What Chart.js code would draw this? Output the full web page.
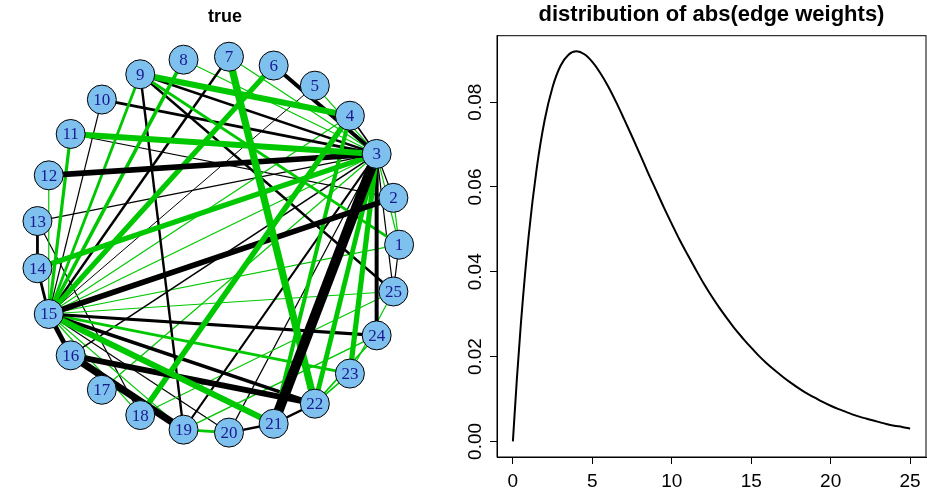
<!DOCTYPE html>
<html>
<head>
<meta charset="utf-8">
<script src="https://cdn.jsdelivr.net/npm/chart.js@4.4.1/dist/chart.umd.min.js"></script>
<style>
  html, body { margin: 0; padding: 0; background: #fff; }
  #wrap { position: relative; width: 927px; height: 490px; }
  #netBox { position: absolute; left: 0; top: 0; width: 450px; height: 490px; }
  #densBox { position: absolute; left: 463px; top: 0; width: 464px; height: 490px; }
</style>
</head>
<body>
<div id="wrap">
  <div id="netBox"><canvas id="netChart" width="450" height="490"></canvas></div>
  <div id="densBox"><canvas id="densChart" width="464" height="490"></canvas></div>
</div>
<script>
// nodes (circle layout, node 1 at the right, counter-clockwise)
const nodeLabels = ['1', '2', '3', '4', '5', '6', '7', '8', '9', '10', '11', '12', '13',
  '14', '15', '16', '17', '18', '19', '20', '21', '22', '23', '24', '25'];

// edges: positive = green, negative = black
const edgeFrom = [3, 3, 6, 9, 10, 13, 3, 3, 3, 3, 3, 3, 16, 2, 11, 9, 9, 7, 5, 10,
  15, 15, 15, 16, 16, 15, 13, 14, 13, 1, 21, 20,
  9, 11, 14, 7, 6, 3, 3, 4, 15, 4, 9, 9, 11, 8, 12, 7, 8, 5, 3, 17,
  15, 15, 15, 15, 15, 15, 19, 19, 18, 22, 22, 23, 2, 15];
const edgeTo = [21, 12, 3, 3, 3, 3, 24, 25, 2, 4, 20, 19, 3, 15, 2, 25, 19, 15, 15, 15,
  24, 22, 20, 22, 19, 16, 14, 15, 18, 25, 22, 21,
  4, 3, 3, 22, 15, 22, 23, 18, 21, 21, 1, 15, 15, 15, 15, 3, 3, 3, 1, 3,
  1, 23, 25, 3, 4, 18, 20, 24, 25, 23, 24, 25, 1, 19];
const edgeWeight = [-25, -14, -10, -6, -7, -3, -10, -3, -3, -4, -3, -5, -4, -14, -3, -6, -6, -6, -2.5, -3,
  -8, -9, -3, -15, -18, -12, -7, -7, -3, -3, -6, -6,
  15, 15, 13, 18, 13, 12, 13, 14, 15, 10, 7, 7, 8, 9, 3, 3, 3, 3, 3, 3,
  3, 7, 3, 3, 3, 3, 7, 4, 3, 4, 4, 3, 3, 3];

// density curve of abs(edge weights)
const densX = [0, 0.25, 0.5, 1, 1.5, 2, 2.5, 3, 3.5, 4, 4.5, 5, 5.5, 6, 6.5, 7, 7.5, 8, 8.5, 9, 9.5,
  10, 10.5, 11, 11.5, 12, 12.5, 13, 13.5, 14, 14.5, 15, 15.5, 16, 16.5, 17, 17.5, 18, 18.5,
  19, 19.5, 20, 20.5, 21, 21.5, 22, 22.5, 23, 23.5, 24, 24.5, 25];
const densY = [0, 0.0147, 0.0276, 0.0487, 0.0644, 0.0758, 0.0836, 0.0886, 0.0912, 0.0920, 0.0913,
  0.0895, 0.0869, 0.0837, 0.0800, 0.0760, 0.0719, 0.0677, 0.0634, 0.0593, 0.0552,
  0.0513, 0.0475, 0.0440, 0.0406, 0.0373, 0.0343, 0.0315, 0.0289, 0.0264, 0.0242,
  0.0221, 0.0201, 0.0183, 0.0167, 0.0152, 0.0138, 0.0125, 0.0113, 0.0103, 0.0093,
  0.0084, 0.0076, 0.0069, 0.0062, 0.0056, 0.0051, 0.0046, 0.0041, 0.0037, 0.0034, 0.0030];
const xTicks = [0, 5, 10, 15, 20, 25];
const yTicks = [0, 0.02, 0.04, 0.06, 0.08];

const POS_COL = '#00c800';
const NEG_COL = '#000000';
const SANS = '"Liberation Sans", Arial, Helvetica, sans-serif';

function nodePos(i) {
  const a = (i * 2 * Math.PI) / nodeLabels.length;
  return { x: Math.cos(a), y: Math.sin(a) };
}

// thin edges first, heavy ones on top
const edgeIdx = edgeFrom.map((_, i) => i)
  .sort((a, b) => Math.abs(edgeWeight[a]) - Math.abs(edgeWeight[b]));

const netDatasets = [{
  label: 'nodes',
  data: nodeLabels.map((_, i) => nodePos(i)),
  pointRadius: 14.5,
  pointBackgroundColor: '#7ec0ee',
  pointBorderColor: '#000',
  pointBorderWidth: 1,
  showLine: false,
  order: 0,
}];
edgeIdx.forEach((e, k) => {
  netDatasets.push({
    label: 'edge ' + edgeFrom[e] + '-' + edgeTo[e],
    data: [nodePos(edgeFrom[e] - 1), nodePos(edgeTo[e] - 1)],
    showLine: true,
    borderColor: edgeWeight[e] > 0 ? POS_COL : NEG_COL,
    borderWidth: Math.abs(edgeWeight[e]) * 0.4,
    pointRadius: 0,
    order: edgeIdx.length - k + 1,
  });
});

const nodeTextPlugin = {
  id: 'nodeText',
  afterDatasetsDraw(chart) {
    const meta = chart.getDatasetMeta(0);
    const ctx = chart.ctx;
    ctx.save();
    ctx.font = '17px "Liberation Serif", "Times New Roman", serif';
    ctx.fillStyle = '#1a1a90';
    ctx.textAlign = 'center';
    ctx.textBaseline = 'middle';
    meta.data.forEach((pt, i) => ctx.fillText(nodeLabels[i], pt.x, pt.y + 1));
    ctx.restore();
  }
};

new Chart(document.getElementById('netChart'), {
  type: 'scatter',
  data: { datasets: netDatasets },
  options: {
    responsive: false,
    animation: false,
    events: [],
    layout: { padding: 0 },
    plugins: {
      legend: { display: false },
      tooltip: { enabled: false },
      title: {
        display: true,
        text: 'true',
        color: '#000',
        font: { family: SANS, size: 18, weight: 'bold' },
        padding: { top: 6, bottom: 10 },
      },
    },
    scales: {
      x: { type: 'linear', display: false, min: -1.113, max: 1.195 },
      y: { type: 'linear', display: false, min: -1.2205, max: 1.0995 },
    },
  },
  plugins: [nodeTextPlugin],
});

const boxPlugin = {
  id: 'box',
  afterDraw(chart) {
    const { ctx, chartArea } = chart;
    const yScale = chart.scales.y;
    ctx.save();
    ctx.strokeStyle = '#000';
    ctx.lineWidth = 1;
    ctx.strokeRect(chartArea.left, chartArea.top, chartArea.right - chartArea.left, chartArea.bottom - chartArea.top);
    // rotated y tick labels, as R draws them
    ctx.fillStyle = '#000';
    ctx.font = '19px ' + SANS;
    ctx.textAlign = 'center';
    ctx.textBaseline = 'middle';
    yTicks.forEach(v => {
      ctx.save();
      ctx.translate(13, yScale.getPixelForValue(v));
      ctx.rotate(-Math.PI / 2);
      ctx.fillText(v.toFixed(2), 0, 0);
      ctx.restore();
    });
    ctx.restore();
  }
};

new Chart(document.getElementById('densChart'), {
  type: 'line',
  data: {
    datasets: [{
      data: densX.map((x, i) => ({ x: x, y: densY[i] })),
      borderColor: '#000',
      borderWidth: 2,
      pointRadius: 0,
      cubicInterpolationMode: 'monotone',
      fill: false,
    }]
  },
  options: {
    responsive: false,
    animation: false,
    events: [],
    layout: { padding: { right: 1 } },
    plugins: {
      legend: { display: false },
      tooltip: { enabled: false },
      title: {
        display: true,
        fullSize: false,
        text: 'distribution of abs(edge weights)',
        color: '#000',
        font: { family: SANS, size: 22, weight: 'bold' },
        padding: { top: 2, bottom: 7.3 },
      },
    },
    scales: {
      x: {
        type: 'linear',
        min: -1,
        max: 26,
        afterBuildTicks: s => { s.ticks = xTicks.map(v => ({ value: v })); },
        afterFit: s => { s.height = 33; },
        grid: { drawOnChartArea: false, drawTicks: true, tickLength: 7, color: '#000' },
        border: { display: true, color: '#000' },
        ticks: { color: '#000', font: { family: SANS, size: 19 }, padding: 6, maxRotation: 0 },
      },
      y: {
        type: 'linear',
        min: -0.00368,
        max: 0.09568,
        afterBuildTicks: s => { s.ticks = yTicks.map(v => ({ value: v })); },
        afterFit: s => { s.width = 34; },
        grid: { drawOnChartArea: false, drawTicks: true, tickLength: 7, color: '#000' },
        border: { display: true, color: '#000' },
        ticks: { display: false },
      },
    },
  },
  plugins: [boxPlugin],
});
</script>
</body>
</html>
